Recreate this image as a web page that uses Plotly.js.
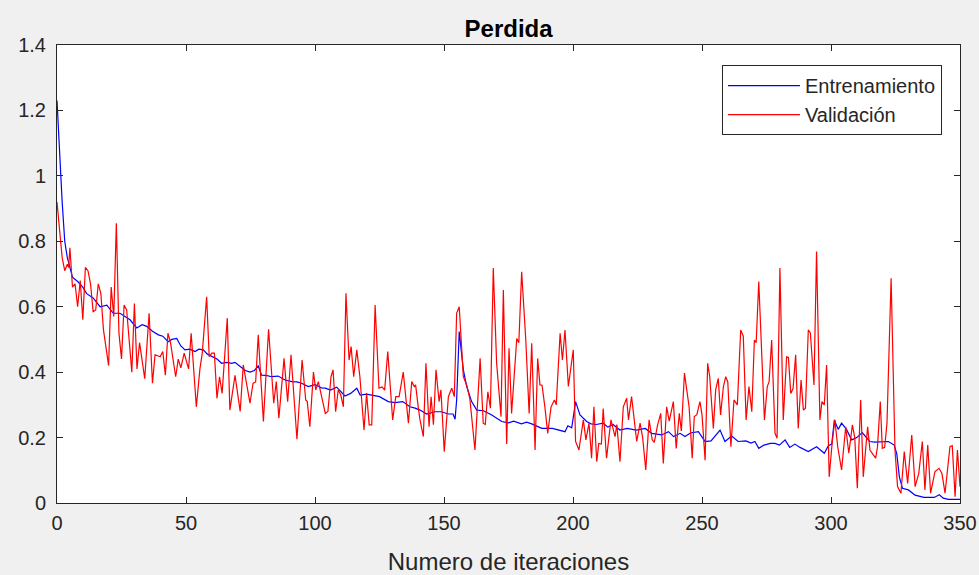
<!DOCTYPE html>
<html>
<head>
<meta charset="utf-8">
<script src="https://cdn.plot.ly/plotly-3.0.1.min.js"></script>
<style>
  html, body { margin: 0; padding: 0; background: #f0f0f0; }
  #chart { width: 979px; height: 575px; }
</style>
</head>
<body>
<div id="chart"></div>
<script>
// Training loss (blue) per iteration
const iterTrain = [0, 1, 2, 3, 4, 5, 6, 8, 10, 11.5, 14, 16.7, 19.3, 21.8, 24.4, 28.3, 30.9, 33, 34.8, 37, 39.3, 41, 43.1, 44.5, 46.4, 48, 49.6, 51.5, 53.5, 55, 56.7, 58.3, 60, 62, 63.8, 65.7, 67.7, 69, 71, 73, 74.8, 76.5, 78, 79.3, 81, 83.2, 85.7, 88.4, 91, 93, 94.8, 97.4, 100, 102.5, 104, 106, 108.4, 110, 111.6, 113.8, 116.2, 117.5, 120, 122, 125, 128.4, 131, 134, 136.8, 138.8, 140.7, 143.3, 146.5, 149, 151.7, 153.5, 154.3, 154.9, 155.9, 157.5, 158.8, 160.7, 162.7, 165.3, 168.5, 172.4, 175, 177, 180, 182, 184, 187.9, 192, 196.9, 198, 199.5, 201, 202.7, 205.3, 207, 209, 211.7, 213.5, 215.5, 218.2, 221, 224.5, 228, 230.5, 234.4, 237, 239, 241.5, 243.4, 245.5, 248.6, 251.2, 253.5, 257, 258.9, 261.5, 264, 267, 269, 270.5, 272, 274, 276.5, 278.3, 280, 282.2, 284, 286, 288, 291.2, 294.4, 297.4, 299, 300.3, 301.3, 302.8, 304.1, 306, 308, 310, 312.1, 315, 317, 319.5, 322.2, 324.5, 325.5, 326.5, 327.7, 330, 332.6, 336, 340, 342, 343.5, 345.5, 350];
const lossTrain = [1.23, 1.05, 0.92, 0.80, 0.75, 0.72, 0.69, 0.677, 0.66, 0.64, 0.627, 0.60, 0.605, 0.58, 0.58, 0.56, 0.535, 0.545, 0.54, 0.525, 0.514, 0.51, 0.493, 0.50, 0.503, 0.48, 0.468, 0.47, 0.463, 0.47, 0.468, 0.455, 0.447, 0.44, 0.427, 0.43, 0.427, 0.43, 0.417, 0.405, 0.40, 0.405, 0.419, 0.391, 0.39, 0.386, 0.388, 0.376, 0.371, 0.37, 0.366, 0.356, 0.362, 0.352, 0.351, 0.345, 0.354, 0.34, 0.327, 0.335, 0.351, 0.33, 0.333, 0.33, 0.325, 0.31, 0.307, 0.31, 0.294, 0.29, 0.284, 0.272, 0.279, 0.279, 0.272, 0.272, 0.256, 0.315, 0.524, 0.407, 0.356, 0.31, 0.284, 0.282, 0.269, 0.249, 0.245, 0.25, 0.242, 0.247, 0.242, 0.228, 0.228, 0.218, 0.236, 0.23, 0.31, 0.269, 0.249, 0.242, 0.24, 0.244, 0.232, 0.24, 0.223, 0.228, 0.223, 0.228, 0.213, 0.208, 0.218, 0.203, 0.213, 0.203, 0.214, 0.218, 0.188, 0.19, 0.223, 0.188, 0.205, 0.188, 0.19, 0.183, 0.188, 0.167, 0.177, 0.182, 0.182, 0.177, 0.193, 0.17, 0.18, 0.17, 0.157, 0.172, 0.152, 0.175, 0.18, 0.254, 0.225, 0.244, 0.225, 0.193, 0.20, 0.215, 0.188, 0.186, 0.188, 0.188, 0.177, 0.15, 0.08, 0.045, 0.04, 0.024, 0.017, 0.017, 0.025, 0.015, 0.011, 0.011];

// Validation loss (red) per iteration
const iterVal = [0, 2, 3, 4, 4.5, 5, 6, 7, 8, 9, 10, 11, 12, 13, 14, 15, 16, 17, 18, 20, 21, 22, 23, 24, 25, 26, 27, 29, 30, 31, 32, 34, 35.7, 37, 38, 40, 41, 42, 43, 44, 46, 47, 48, 49.3, 51, 52, 54, 55.4, 56.3, 58, 59, 60, 61, 62, 63, 64, 66, 67, 69, 71, 72.2, 73.5, 74.8, 76, 77, 78, 80, 82, 84, 85, 86, 88, 89.4, 90.7, 93, 95, 96.4, 97, 98, 99.4, 100.3, 101.3, 104, 105, 106.2, 107, 108, 109, 110, 111, 112, 113.2, 114, 115, 116.2, 117.4, 119, 120, 121, 122, 123.3, 124.8, 126, 127, 128.2, 130.1, 131.3, 132.6, 134.2, 136.2, 137.5, 138.5, 139, 140, 140.7, 142, 143, 144.2, 145, 145.9, 146.9, 148.1, 148.8, 150.1, 151.7, 153, 154, 154.9, 155.9, 157.5, 158.8, 160, 162, 164, 165.2, 166, 167, 168, 169.1, 170.4, 172.1, 173, 174.3, 175.2, 176.2, 178.2, 179, 180.1, 181.7, 183, 184, 185.3, 186.3, 187.2, 188, 189.1, 190.2, 191.5, 192.8, 193.5, 195, 195.9, 196.9, 198.2, 200.1, 201, 202.3, 204, 205, 206.2, 207.2, 208.1, 209.2, 210, 211, 211.7, 213, 214.7, 216.3, 217, 218.2, 219.5, 220.8, 221.5, 222.7, 224.7, 226, 227, 228.2, 229.5, 230.7, 231.5, 232.8, 234, 235, 236.3, 237.3, 238.9, 240, 241.2, 242, 243.2, 245, 246.2, 247, 248, 249.2, 250, 251.2, 252.2, 253, 254.4, 255.3, 256.3, 257.2, 258.3, 259.2, 260, 261.2, 262.4, 263.7, 265, 266, 267.1, 268.2, 269.3, 270.3, 271, 272, 274.2, 275.3, 276, 277, 278.3, 279.1, 280.2, 281.5, 282.8, 283.5, 284.4, 285.3, 286.3, 287.3, 288.4, 289.3, 290.1, 291.2, 292, 293.4, 294.4, 295.7, 296.5, 297.4, 298.3, 299.3, 300.5, 301.5, 302.6, 304.1, 305.7, 306.9, 308.3, 309.2, 310.2, 311.5, 312.5, 313.4, 314.2, 315.1, 317.3, 318, 319.1, 319.9, 320.8, 321.7, 323.3, 324.8, 325.8, 327.1, 328.4, 329.7, 331.3, 332.6, 334, 335.4, 336.4, 337.5, 338.6, 340.3, 341.9, 343, 344.2, 346.1, 347, 348.1, 349, 350];
const lossVal = [0.92, 0.75, 0.71, 0.73, 0.72, 0.78, 0.66, 0.67, 0.60, 0.68, 0.56, 0.72, 0.71, 0.67, 0.585, 0.59, 0.67, 0.64, 0.53, 0.42, 0.66, 0.57, 0.855, 0.52, 0.44, 0.605, 0.59, 0.40, 0.61, 0.41, 0.49, 0.38, 0.58, 0.366, 0.453, 0.447, 0.463, 0.391, 0.519, 0.49, 0.386, 0.44, 0.413, 0.458, 0.41, 0.519, 0.294, 0.41, 0.458, 0.63, 0.447, 0.458, 0.458, 0.32, 0.386, 0.335, 0.565, 0.284, 0.39, 0.28, 0.422, 0.361, 0.305, 0.366, 0.37, 0.514, 0.249, 0.531, 0.305, 0.371, 0.259, 0.442, 0.31, 0.453, 0.195, 0.437, 0.315, 0.31, 0.233, 0.40, 0.346, 0.371, 0.274, 0.28, 0.386, 0.407, 0.279, 0.346, 0.33, 0.294, 0.641, 0.437, 0.478, 0.386, 0.468, 0.386, 0.223, 0.335, 0.239, 0.239, 0.605, 0.351, 0.355, 0.345, 0.463, 0.254, 0.325, 0.325, 0.40, 0.244, 0.371, 0.356, 0.361, 0.294, 0.254, 0.203, 0.427, 0.233, 0.325, 0.239, 0.407, 0.31, 0.346, 0.157, 0.325, 0.351, 0.325, 0.58, 0.60, 0.386, 0.36, 0.32, 0.162, 0.442, 0.244, 0.24, 0.34, 0.29, 0.718, 0.427, 0.264, 0.651, 0.18, 0.473, 0.274, 0.503, 0.49, 0.707, 0.498, 0.274, 0.488, 0.162, 0.442, 0.361, 0.36, 0.294, 0.213, 0.294, 0.315, 0.30, 0.519, 0.437, 0.529, 0.356, 0.468, 0.188, 0.162, 0.254, 0.193, 0.244, 0.137, 0.294, 0.126, 0.182, 0.18, 0.289, 0.137, 0.254, 0.203, 0.24, 0.126, 0.294, 0.32, 0.254, 0.325, 0.188, 0.244, 0.2, 0.101, 0.254, 0.193, 0.185, 0.239, 0.274, 0.121, 0.294, 0.25, 0.31, 0.167, 0.274, 0.22, 0.397, 0.294, 0.137, 0.264, 0.27, 0.31, 0.27, 0.131, 0.427, 0.386, 0.228, 0.346, 0.381, 0.269, 0.356, 0.386, 0.37, 0.172, 0.315, 0.30, 0.529, 0.51, 0.254, 0.356, 0.279, 0.498, 0.49, 0.677, 0.254, 0.356, 0.37, 0.498, 0.213, 0.198, 0.718, 0.254, 0.447, 0.445, 0.335, 0.35, 0.453, 0.228, 0.376, 0.284, 0.29, 0.529, 0.52, 0.361, 0.769, 0.254, 0.31, 0.30, 0.422, 0.08, 0.188, 0.254, 0.172, 0.101, 0.233, 0.152, 0.239, 0.20, 0.045, 0.315, 0.08, 0.168, 0.233, 0.162, 0.137, 0.17, 0.31, 0.167, 0.17, 0.244, 0.687, 0.162, 0.05, 0.03, 0.157, 0.06, 0.208, 0.05, 0.09, 0.188, 0.04, 0.177, 0.03, 0.096, 0.106, 0.09, 0.03, 0.172, 0.175, 0.019, 0.162, 0.05];

const seriesNames = ['Entrenamiento', 'Validación'];
const titleText = 'Perdida';
const xLabel = 'Numero de iteraciones';

const axisColor = '#262626';
const fontFamily = '"Liberation Sans", Arial, Helvetica, sans-serif';

const traces = [
  {
    x: iterTrain, y: lossTrain, name: seriesNames[0],
    type: 'scatter', mode: 'lines',
    line: { color: '#0000ff', width: 1.2 }
  },
  {
    x: iterVal, y: lossVal, name: seriesNames[1],
    type: 'scatter', mode: 'lines',
    line: { color: '#ff0000', width: 1.2 }
  }
];

const commonAxis = {
  showline: true, linecolor: axisColor, linewidth: 1,
  mirror: 'allticks',
  ticks: 'inside', ticklen: 6, tickcolor: axisColor, tickwidth: 1,
  showgrid: false, zeroline: false,
  tickfont: { family: fontFamily, size: 20, color: axisColor }
};

const layout = {
  width: 979, height: 575,
  paper_bgcolor: '#f0f0f0',
  plot_bgcolor: '#ffffff',
  margin: { l: 57, r: 19, t: 45, b: 72 },
  title: {
    text: '<b>' + titleText + '</b>',
    font: { family: fontFamily, size: 24, color: '#000000' },
    x: 0.5195, xref: 'container', xanchor: 'center',
    y: 0.951, yref: 'container', yanchor: 'middle'
  },
  xaxis: Object.assign({}, commonAxis, {
    range: [0, 350], tick0: 0, dtick: 50,
    ticklabelstandoff: 2,
    title: { text: xLabel, font: { family: fontFamily, size: 24, color: axisColor }, standoff: 21 }
  }),
  yaxis: Object.assign({}, commonAxis, {
    range: [0, 1.4], tick0: 0, dtick: 0.2,
    ticklabelstandoff: 6
  }),
  showlegend: true,
  legend: {
    x: 0.98, xanchor: 'right', y: 0.956, yanchor: 'top',
    bgcolor: '#ffffff', bordercolor: axisColor, borderwidth: 1,
    font: { family: fontFamily, size: 20, color: axisColor },
    itemwidth: 72,
    tracegroupgap: 0
  }
};

Plotly.newPlot('chart', traces, layout, { displayModeBar: false, staticPlot: true });
</script>
</body>
</html>
